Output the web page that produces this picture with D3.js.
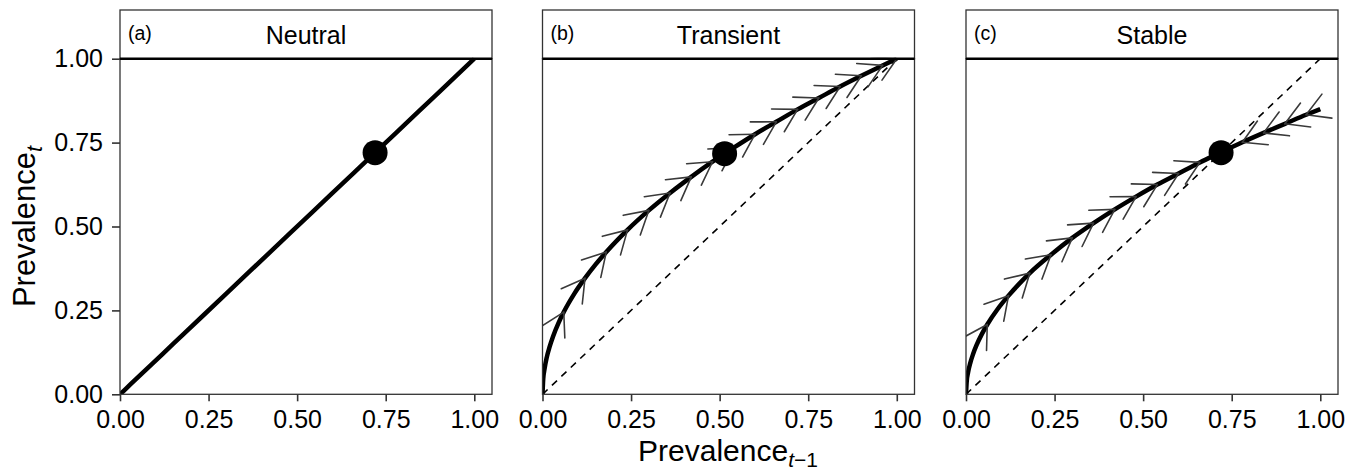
<!DOCTYPE html>
<html>
<head>
<meta charset="utf-8">
<script src="https://cdn.jsdelivr.net/npm/d3@7"></script>
<style>
  body { margin: 0; background: #fff; }
  text { font-family: "Liberation Sans", Arial, sans-serif; fill: #000; }
</style>
</head>
<body>
<script>
// panel names and tags
var panelNames = ["Neutral", "Transient", "Stable"];
var panelTags = ["(a)", "(b)", "(c)"];
var xTicks = [0, 0.25, 0.5, 0.75, 1];
var yTicks = [0, 0.25, 0.5, 0.75, 1];

// curve
var curveX = [0, 0.002, 0.006, 0.012, 0.02, 0.03, 0.045, 0.06, 0.09, 0.12, 0.15, 0.18, 0.24, 0.30, 0.36, 0.42, 0.48, 0.54, 0.60, 0.66, 0.72, 0.78, 0.84, 0.90, 0.96, 1.0];
var neutralY = [0, 0.002, 0.006, 0.012, 0.02, 0.03, 0.045, 0.06, 0.09, 0.12, 0.15, 0.18, 0.24, 0.30, 0.36, 0.42, 0.48, 0.54, 0.60, 0.66, 0.72, 0.78, 0.84, 0.90, 0.96, 1.0];
var transientY = [0, 0.045, 0.077, 0.11, 0.141, 0.173, 0.212, 0.245, 0.30, 0.346, 0.387, 0.424, 0.49, 0.548, 0.60, 0.648, 0.693, 0.735, 0.775, 0.812, 0.849, 0.883, 0.917, 0.949, 0.98, 1.0];
var stableY = [0, 0.038, 0.066, 0.093, 0.12, 0.147, 0.18, 0.208, 0.255, 0.294, 0.329, 0.361, 0.416, 0.466, 0.51, 0.551, 0.589, 0.625, 0.658, 0.691, 0.721, 0.751, 0.779, 0.806, 0.833, 0.85];

// highlighted points
var pointX = [0.72, 0.514, 0.72];
var pointY = [0.72, 0.717, 0.72];

// arrow tips (x) and direction, +1 = towards right, -1 = towards left
var transientTips = [0.06, 0.12, 0.18, 0.24, 0.30, 0.36, 0.42, 0.48, 0.54, 0.60, 0.66, 0.72, 0.78, 0.84, 0.90, 0.96, 1.0];
var transientDir = [1, 1, 1, 1, 1, 1, 1, 1, 1, 1, 1, 1, 1, 1, 1, 1, 1];
var stableTips = [0.06, 0.12, 0.18, 0.24, 0.30, 0.36, 0.42, 0.48, 0.54, 0.60, 0.66, 0.78, 0.84, 0.90, 0.96];
var stableDir = [1, 1, 1, 1, 1, 1, 1, 1, 1, 1, 1, -1, -1, -1, -1];

var curves = [neutralY, transientY, stableY];
var tips = [[], transientTips, stableTips];
var dirs = [[], transientDir, stableDir];
var dashed = [false, true, true];

var width = 1360, height = 471;
var panelLeft = [120, 542.5, 966],
    panelW = 372,
    stripTop = 10,
    panelTop = 58.7,
    panelBottom = 394.3;

var svg = d3.select("body").append("svg")
    .attr("width", width)
    .attr("height", height);

var y = d3.scaleLinear().domain([0, 1]).range([panelBottom, panelTop]);

panelNames.forEach(function(name, p){
  var x = d3.scaleLinear().domain([0, 1.05]).range([panelLeft[p], panelLeft[p] + panelW]);
  var g = svg.append("g");

  // strip
  g.append("rect")
    .attr("x", panelLeft[p]).attr("y", stripTop)
    .attr("width", panelW).attr("height", panelTop - stripTop)
    .attr("fill", "#fff").attr("stroke", "#333").attr("stroke-width", 1.3);
  g.append("text")
    .attr("x", panelLeft[p] + panelW / 2).attr("y", 43.5)
    .attr("text-anchor", "middle")
    .style("font-size", "25px")
    .text(name);
  g.append("text")
    .attr("x", panelLeft[p] + 8).attr("y", 40)
    .style("font-size", "19.5px")
    .text(panelTags[p]);

  // clip for panel contents
  var clipId = "clip" + p;
  svg.append("clipPath").attr("id", clipId)
    .append("rect")
    .attr("x", panelLeft[p]).attr("y", panelTop - 1)
    .attr("width", panelW).attr("height", panelBottom - panelTop + 1);
  var inner = g.append("g").attr("clip-path", "url(#" + clipId + ")");

  // dashed 1:1 line
  if (dashed[p]) {
    inner.append("line")
      .attr("x1", x(0)).attr("y1", y(0))
      .attr("x2", x(1)).attr("y2", y(1))
      .attr("stroke", "#000").attr("stroke-width", 1.6)
      .attr("stroke-dasharray", "7,6");
  }

  var data = curveX.map(function(d, i){ return [d, curves[p][i]]; });
  var line = d3.line()
    .x(function(d){ return x(d[0]); })
    .y(function(d){ return y(d[1]); })
    .curve(p === 0 ? d3.curveLinear : d3.curveMonotoneX);

  inner.append("path")
    .datum(data)
    .attr("d", line)
    .attr("fill", "none")
    .attr("stroke", "#000")
    .attr("stroke-width", 4.5);

  // arrow heads along the curve
  var lookup = d3.scaleLinear().domain(curveX).range(curves[p]);
  var L = 26, ang = Math.PI / 6;
  tips[p].forEach(function(t, i){
    var tx = x(t), ty = y(lookup(t));
    var a = Math.max(0, t - 0.01), b = Math.min(1, t + 0.01);
    var dx = x(b) - x(a), dy = y(lookup(b)) - y(lookup(a));
    var len = Math.sqrt(dx * dx + dy * dy);
    // vector pointing back from the tip
    var bx = -dirs[p][i] * dx / len, by = -dirs[p][i] * dy / len;
    [-ang, ang].forEach(function(r){
      var rx = bx * Math.cos(r) - by * Math.sin(r);
      var ry = bx * Math.sin(r) + by * Math.cos(r);
      inner.append("line")
        .attr("x1", tx).attr("y1", ty)
        .attr("x2", tx + rx * L).attr("y2", ty + ry * L)
        .attr("stroke", "#3a3a3a").attr("stroke-width", 1.6)
        .attr("stroke-linecap", "round");
    });
  });

  inner.append("circle")
    .attr("cx", x(pointX[p])).attr("cy", y(pointY[p]))
    .attr("r", 12.5)
    .attr("fill", "#000");

  // panel border
  g.append("rect")
    .attr("x", panelLeft[p]).attr("y", panelTop)
    .attr("width", panelW).attr("height", panelBottom - panelTop)
    .attr("fill", "none").attr("stroke", "#333").attr("stroke-width", 1.3);
  g.append("line")
    .attr("x1", panelLeft[p]).attr("x2", panelLeft[p] + panelW)
    .attr("y1", panelTop).attr("y2", panelTop)
    .attr("stroke", "#000").attr("stroke-width", 2.6);

  // x axis
  var xAxis = g.append("g")
    .attr("transform", "translate(0," + panelBottom + ")")
    .call(d3.axisBottom(x).tickValues(xTicks).tickSize(7).tickPadding(9)
      .tickFormat(d3.format(".2f")));
  xAxis.select(".domain").remove();
  xAxis.selectAll(".tick line").attr("stroke", "#333").attr("stroke-width", 1.6);
  xAxis.selectAll("text").style("font-size", "25px").attr("fill", "#333");

  if (p === 0) {
    var yAxis = g.append("g")
      .attr("transform", "translate(" + panelLeft[p] + ",0)")
      .call(d3.axisLeft(y).tickValues(yTicks).tickSize(8).tickPadding(9)
        .tickFormat(d3.format(".2f")));
    yAxis.select(".domain").remove();
    yAxis.selectAll(".tick line").attr("stroke", "#333").attr("stroke-width", 1.6);
    yAxis.selectAll("text").style("font-size", "25px").attr("fill", "#333");
  }
});

// axis titles
var yt = svg.append("text")
  .attr("transform", "translate(35," + ((panelTop + panelBottom) / 2) + ") rotate(-90)")
  .attr("text-anchor", "middle")
  .style("font-size", "31px");
yt.append("tspan").text("Prevalence");
yt.append("tspan").attr("dy", "0.3em").style("font-size", "22px").style("font-style", "italic").text("t");

var xt = svg.append("text")
  .attr("x", 728).attr("y", 461)
  .attr("text-anchor", "middle")
  .style("font-size", "30px");
xt.append("tspan").text("Prevalence");
xt.append("tspan").attr("dy", "0.27em").style("font-size", "21px").style("font-style", "italic").text("t");
xt.append("tspan").style("font-size", "21px").text("\u22121");
</script>
</body>
</html>
